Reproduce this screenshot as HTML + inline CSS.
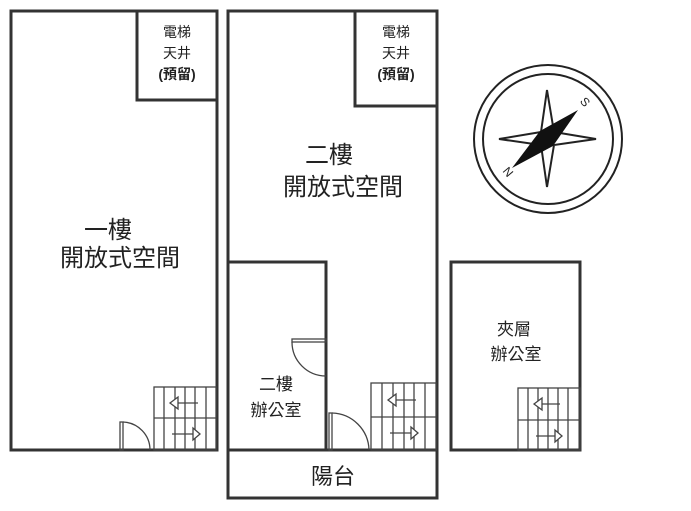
<!DOCTYPE html>
<html><head><meta charset="utf-8"><style>
html,body{margin:0;padding:0;background:#fff;}
svg{display:block}
text{font-family:"Liberation Sans","Noto Sans CJK TC",sans-serif;fill:#222;text-anchor:middle}
</style></head><body>
<svg width="691" height="511" viewBox="0 0 691 511" xmlns="http://www.w3.org/2000/svg">
<g fill="none" stroke="#333" stroke-width="3">
<rect x="11" y="11" width="206" height="439"/>
<polyline points="137,11 137,100 217,100"/>
<rect x="228" y="11" width="209" height="439"/>
<polyline points="355,11 355,106 437,106"/>
<polyline points="228,262 326,262 326,450"/>
<rect x="228" y="450" width="209" height="48"/>
<rect x="451" y="262" width="129" height="188"/>
</g>
<g fill="none" stroke="#444" stroke-width="1.3">
<rect x="154" y="387" width="62" height="63"/>
<line x1="154" y1="418" x2="216" y2="418"/>
<line x1="164" y1="387" x2="164" y2="450"/><line x1="175" y1="387" x2="175" y2="450"/><line x1="185" y1="387" x2="185" y2="450"/><line x1="195" y1="387" x2="195" y2="450"/><line x1="206" y1="387" x2="206" y2="450"/>
<line x1="176" y1="403" x2="198" y2="403"/><polygon points="170,403 178,397 178,409" fill="#fff"/>
<line x1="172" y1="434" x2="194" y2="434"/><polygon points="200,434 193,428 193,440" fill="#fff"/>
<rect x="371" y="383" width="65" height="67"/>
<line x1="371" y1="417" x2="436" y2="417"/>
<line x1="382" y1="383" x2="382" y2="450"/><line x1="393" y1="383" x2="393" y2="450"/><line x1="404" y1="383" x2="404" y2="450"/><line x1="414" y1="383" x2="414" y2="450"/><line x1="425" y1="383" x2="425" y2="450"/>
<line x1="394" y1="400" x2="416" y2="400"/><polygon points="388,400 396,394 396,406" fill="#fff"/>
<line x1="390" y1="433" x2="412" y2="433"/><polygon points="418,433 411,427 411,439" fill="#fff"/>
<rect x="518" y="388" width="62" height="62"/>
<line x1="518" y1="420" x2="580" y2="420"/>
<line x1="528" y1="388" x2="528" y2="450"/><line x1="538" y1="388" x2="538" y2="450"/><line x1="548" y1="388" x2="548" y2="450"/><line x1="558" y1="388" x2="558" y2="450"/><line x1="568" y1="388" x2="568" y2="450"/>
<line x1="540" y1="404" x2="560" y2="404"/><polygon points="534,404 542,398 542,410" fill="#fff"/>
<line x1="536" y1="436" x2="556" y2="436"/><polygon points="562,436 555,430 555,442" fill="#fff"/>
<rect x="120" y="422" width="3" height="28"/>
<path d="M123,422 A28,28 0 0 1 150,450"/>
<rect x="329" y="413" width="3" height="37"/>
<path d="M332,413 A38,38 0 0 1 369,450"/>
<rect x="292" y="339" width="34" height="3"/>
<path d="M292,342 A34,34 0 0 0 326,376"/>
</g>
<g stroke="#222" fill="none" stroke-width="2">
<circle cx="548" cy="139" r="74"/>
<circle cx="548" cy="139" r="65"/>
<polygon points="547,90 554,132 596,139 554,145 547,187 541,145 499,139 541,132" fill="#fff"/>
</g>
<polygon points="578,110 553,146 512,168 540,131" fill="#111"/>
<text x="585" y="106" font-size="12" transform="rotate(50 585 102)">S</text>
<text x="508" y="176" font-size="12" transform="rotate(50 508 172)">N</text>
<g font-size="14">
<text x="177" y="37">電梯</text><text x="177" y="58">天井</text><text x="177" y="79" font-weight="bold">(預留)</text>
<text x="396" y="37">電梯</text><text x="396" y="58">天井</text><text x="396" y="79" font-weight="bold">(預留)</text>
</g>
<g font-size="24">
<text x="108" y="238">一樓</text><text x="120" y="266">開放式空間</text>
<text x="329" y="163">二樓</text><text x="343" y="195">開放式空間</text>
</g>
<text x="333" y="484" font-size="22">陽台</text>
<g font-size="17">
<text x="276" y="390">二樓</text><text x="276" y="416">辦公室</text>
<text x="514" y="335">夾層</text><text x="516" y="360">辦公室</text>
</g>
</svg>
</body></html>
